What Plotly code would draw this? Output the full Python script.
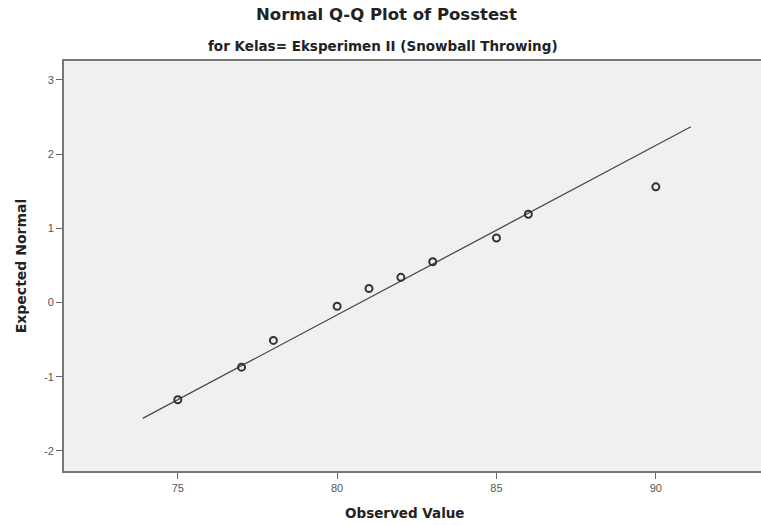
import plotly.graph_objects as go

# Observed values and expected normal quantiles
observed = [75, 77, 78, 80, 81, 82, 83, 85, 86, 90]
expected = [-1.31, -0.87, -0.51, -0.05, 0.19, 0.34, 0.55, 0.87, 1.19, 1.56]

# Reference line endpoints
line_x = [73.9, 91.1]
line_y = [-1.56, 2.37]

x_ticks = [75, 80, 85, 90]
x_labels = ["75", "80", "85", "90"]
y_ticks = [-2, -1, 0, 1, 2, 3]
y_labels = ["-2", "-1", "0", "1", "2", "3"]

BOLD = "DejaVu Sans, Arial, sans-serif"

fig = go.Figure()
fig.add_trace(go.Scatter(x=line_x, y=line_y, mode="lines",
                         line=dict(color="#4a4a4a", width=1.3),
                         hoverinfo="skip", showlegend=False))
fig.add_trace(go.Scatter(x=observed, y=expected, mode="markers",
                         marker=dict(symbol="circle-open", size=7,
                                     color="#333333", line=dict(width=2)),
                         showlegend=False))

fig.update_layout(
    width=761, height=525,
    margin=dict(l=64, r=0, t=61, b=54, autoexpand=False),
    paper_bgcolor="white", plot_bgcolor="#f0f0f0",
    font=dict(family="Liberation Sans, Arial, sans-serif", color="#222"),
    annotations=[
        dict(text="<b>Normal Q-Q Plot of Posstest</b>", x=0.463, y=1,
             xref="paper", yref="paper", showarrow=False,
             yanchor="bottom", yshift=35,
             font=dict(family=BOLD, size=16.5, color="#222")),
        dict(text="<b>for Kelas= Eksperimen II (Snowball Throwing)</b>",
             x=0.458, y=1, xref="paper", yref="paper", showarrow=False,
             yanchor="bottom", yshift=5,
             font=dict(family=BOLD, size=13.5, color="#222")),
        dict(text="<b>Observed Value</b>",
             x=0.489, y=0, xref="paper", yref="paper", showarrow=False,
             yanchor="top", yshift=-32,
             font=dict(family=BOLD, size=13.5, color="#222")),
    ],
)

fig.update_xaxes(range=[71.43, 93.3], tickvals=x_ticks, ticktext=x_labels,
                 automargin=False,
                 ticks="outside", ticklen=6, tickcolor="#666", tickwidth=1,
                 tickfont=dict(size=11, color="#555"),
                 showgrid=False, zeroline=False,
                 showline=True, linecolor="#777", linewidth=2, mirror=True)
fig.update_yaxes(range=[-2.27, 3.256], tickvals=y_ticks, ticktext=y_labels,
                 automargin=False,
                 ticks="outside", ticklen=6, tickcolor="#666", tickwidth=1,
                 tickfont=dict(size=11, color="#555"),
                 showgrid=False, zeroline=False,
                 showline=True, linecolor="#777", linewidth=2,
                 title=dict(text="<b>Expected Normal</b>",
                            font=dict(family=BOLD, size=14, color="#222"),
                            standoff=14))

fig.write_html(
    "out.html",
    config={"displayModeBar": False},
    post_script=("document.body.style.margin='0';"
                 "document.body.style.overflow='hidden';"
                 "document.documentElement.style.overflow='hidden';"),
)
